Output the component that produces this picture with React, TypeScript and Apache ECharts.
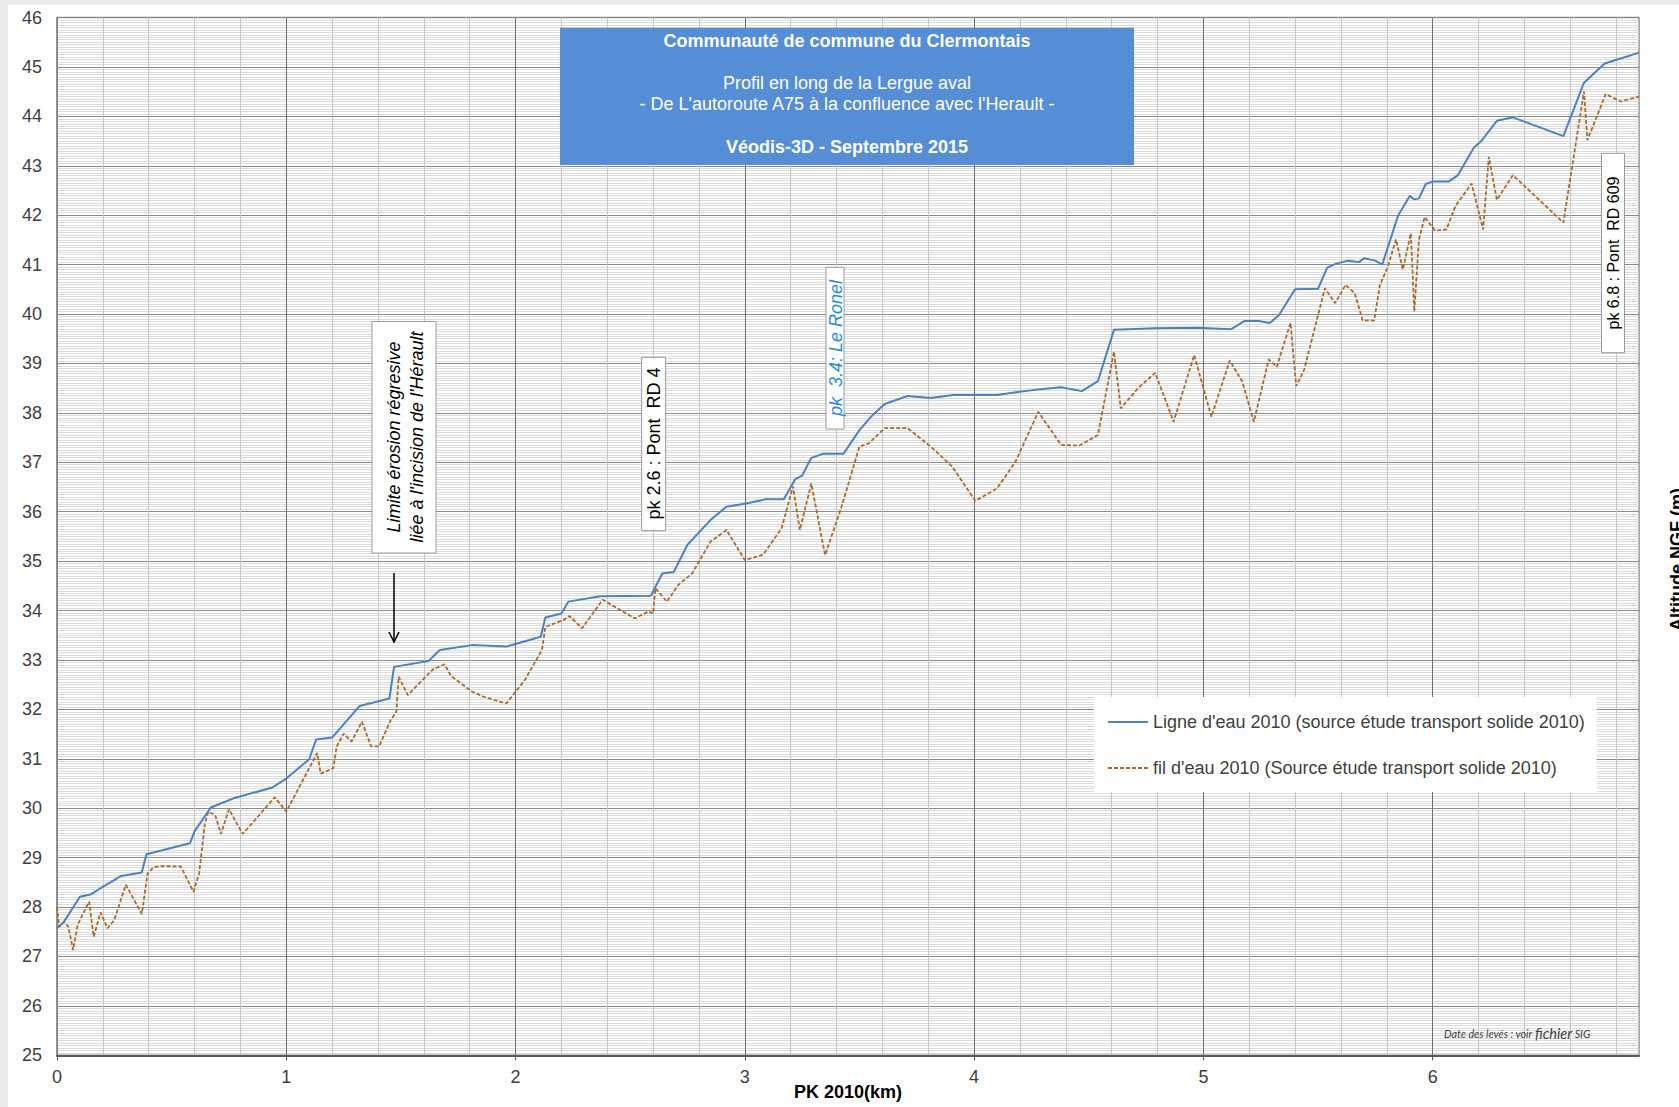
import React, { useEffect, useRef } from 'react';
import * as echarts from 'echarts';

// Ligne d'eau 2010 : PK (km) / altitude (m NGF)
const ligneKm = [
  0.0, 0.03, 0.1, 0.15, 0.2, 0.28, 0.37, 0.39, 0.58, 0.6, 0.67, 0.7, 0.77, 0.94, 1.0,
  1.1, 1.13, 1.2, 1.32, 1.45, 1.47, 1.62, 1.67, 1.81, 1.96, 2.11, 2.13, 2.2, 2.23, 2.37,
  2.59, 2.64, 2.69, 2.75, 2.85, 2.92, 3.0, 3.09, 3.17, 3.22, 3.25, 3.29, 3.34, 3.43, 3.5,
  3.55, 3.61, 3.71, 3.81, 3.91, 4.1, 4.19, 4.29, 4.38, 4.47, 4.54, 4.61, 4.79, 4.97, 5.12,
  5.18, 5.24, 5.29, 5.33, 5.4, 5.5, 5.54, 5.58, 5.63, 5.68, 5.7, 5.75, 5.78, 5.85, 5.9,
  5.92, 5.94, 5.97, 6.0, 6.07, 6.11, 6.18, 6.21, 6.28, 6.35, 6.57, 6.66, 6.75, 6.82, 6.9,
];
const ligneAlt = [
  27.57, 27.7, 28.21, 28.26, 28.41, 28.63, 28.7, 29.07, 29.29, 29.53, 30.01, 30.07, 30.2, 30.42, 30.6,
  30.99, 31.39, 31.43, 32.07, 32.22, 32.86, 32.98, 33.2, 33.3, 33.27, 33.47, 33.86, 33.94, 34.18, 34.29,
  34.3, 34.75, 34.78, 35.33, 35.83, 36.1, 36.16, 36.25, 36.25, 36.66, 36.73, 37.09, 37.17, 37.17, 37.65,
  37.92, 38.18, 38.34, 38.3, 38.36, 38.36, 38.42, 38.48, 38.52, 38.44, 38.64, 39.68, 39.71, 39.72, 39.69,
  39.86, 39.86, 39.82, 39.98, 40.5, 40.51, 40.94, 41.02, 41.08, 41.05, 41.13, 41.08, 41.0, 42.0, 42.39,
  42.32, 42.34, 42.63, 42.68, 42.68, 42.81, 43.37, 43.49, 43.91, 43.98, 43.6, 44.68, 45.07, 45.17, 45.29,
];

// fil d'eau 2010 : PK (km) / altitude (m NGF)
const filKm = [
  0.0, 0.01, 0.03, 0.05, 0.07, 0.09, 0.14, 0.16, 0.19, 0.22, 0.25, 0.3, 0.37, 0.395, 0.42,
  0.45, 0.54, 0.595, 0.62, 0.645, 0.66, 0.69, 0.715, 0.75, 0.81, 0.95, 1.0, 1.1, 1.135, 1.15,
  1.205, 1.22, 1.25, 1.285, 1.33, 1.37, 1.405, 1.455, 1.48, 1.49, 1.53, 1.64, 1.69, 1.72, 1.81,
  1.87, 1.96, 2.04, 2.115, 2.13, 2.21, 2.235, 2.29, 2.38, 2.52, 2.58, 2.6, 2.61, 2.66, 2.71,
  2.77, 2.85, 2.92, 3.0, 3.08, 3.16, 3.21, 3.24, 3.29, 3.35, 3.42, 3.5, 3.54, 3.61, 3.71,
  3.82, 3.905, 4.005, 4.1, 4.18, 4.28, 4.38, 4.46, 4.54, 4.61, 4.64, 4.715, 4.79, 4.87, 4.96,
  5.035, 5.115, 5.17, 5.22, 5.285, 5.32, 5.38, 5.405, 5.44, 5.53, 5.575, 5.62, 5.66, 5.695, 5.745,
  5.77, 5.805, 5.84, 5.87, 5.905, 5.92, 5.94, 5.965, 6.01, 6.06, 6.1, 6.17, 6.22, 6.245, 6.28,
  6.35, 6.57, 6.66, 6.675, 6.755, 6.82, 6.9,
];
const filAlt = [
  28.0, 27.6, 27.7, 27.6, 27.13, 27.64, 28.11, 27.4, 27.89, 27.57, 27.74, 28.45, 27.86, 28.68, 28.8,
  28.83, 28.82, 28.31, 28.68, 29.69, 29.93, 29.86, 29.48, 29.98, 29.48, 30.22, 29.93, 30.81, 31.12, 30.7,
  30.81, 31.25, 31.51, 31.35, 31.75, 31.25, 31.25, 31.78, 31.95, 32.66, 32.29, 32.81, 32.91, 32.67, 32.36,
  32.24, 32.12, 32.59, 33.2, 33.67, 33.81, 33.89, 33.64, 34.22, 33.84, 33.98, 33.94, 34.45, 34.18, 34.52,
  34.75, 35.39, 35.63, 35.02, 35.13, 35.66, 36.51, 35.63, 36.57, 35.12, 36.07, 37.32, 37.38, 37.69, 37.69,
  37.28, 36.91, 36.22, 36.47, 37.01, 38.02, 37.35, 37.34, 37.55, 39.24, 38.09, 38.5, 38.81, 37.82, 39.17,
  37.92, 39.06, 38.63, 37.82, 39.08, 38.93, 39.82, 38.54, 38.88, 40.52, 40.22, 40.59, 40.42, 39.87, 39.87,
  40.59, 40.96, 41.51, 40.9, 41.63, 40.05, 41.5, 41.96, 41.69, 41.71, 42.19, 42.64, 41.71, 43.18, 42.31,
  42.81, 41.85, 44.5, 43.52, 44.45, 44.3, 44.4,
];

const xLabelValues = [0, 1, 2, 3, 4, 5, 6];

const seriesNames = [
  "Ligne d'eau 2010 (source étude transport solide 2010)",
  "fil d'eau 2010 (Source étude transport solide 2010)",
];

const titleLines = [
  'Communauté de commune du Clermontais',
  'Profil en long de la Lergue aval',
  "- De L'autoroute A75 à la confluence avec l'Herault -",
  'Véodis-3D - Septembre 2015',
];

const FONT = '"Liberation Sans", Arial, sans-serif';

function rotText(x: number, y: number, text: string, extra: any = {}) {
  return {
    type: 'text',
    x,
    y,
    rotation: Math.PI / 2,
    z: 110,
    style: {
      text,
      fill: '#000',
      fontSize: 18,
      fontFamily: FONT,
      align: 'center',
      verticalAlign: 'middle',
      ...extra,
    },
  };
}

function box(x: number, y: number, w: number, h: number) {
  return {
    type: 'rect',
    z: 105,
    shape: { x, y, width: w, height: h },
    style: { fill: '#fff', stroke: '#9a9a9a', lineWidth: 1 },
  };
}

export default function App() {
  const ref = useRef<HTMLDivElement>(null);

  useEffect(() => {
    document.body.style.margin = '0';
    const chart = echarts.init(ref.current!, null, { renderer: 'svg' });

    const ligne = ligneKm.map((k, i) => [k, ligneAlt[i]]);
    const fil = filKm.map((k, i) => [k, filAlt[i]]);

    const option: any = {
      animation: false,
      backgroundColor: '#fff',
      textStyle: { fontFamily: FONT },
      grid: {
        left: 57,
        right: 40,
        top: 17.5,
        bottom: 51.7,
        containLabel: false,
        outerBoundsMode: 'none',
        show: true,
        borderColor: '#8c8c8c',
        borderWidth: 1.5,
        backgroundColor: 'transparent',
      },
      legend: {
        orient: 'vertical',
        left: 1094,
        top: 697,
        padding: [16, 12, 15, 13],
        itemGap: 28,
        itemWidth: 40,
        itemHeight: 14,
        backgroundColor: '#fff',
        itemStyle: { opacity: 0 },
        textStyle: { fontSize: 18, color: '#404040', fontFamily: FONT },
        data: seriesNames,
        z: 20,
      },
      xAxis: [
        {
          type: 'value',
          position: 'bottom',
          min: 0,
          max: 6.9,
          interval: 1,
          name: 'PK 2010(km)',
          nameLocation: 'middle',
          nameGap: 28,
          nameMoveOverlap: false,
          nameTextStyle: { fontSize: 18, fontWeight: 'bold', color: '#000', fontFamily: FONT },
          axisLine: { show: true, lineStyle: { color: '#595959', width: 2 } },
          axisTick: { show: true, length: 5, lineStyle: { color: '#595959' }, customValues: xLabelValues },
          axisLabel: {
            fontSize: 18,
            color: '#404040',
            margin: 13,
            fontFamily: FONT,
            customValues: xLabelValues,
          },
          splitLine: { show: true, lineStyle: { color: '#707070', width: 1 } },
        },
        {
          type: 'value',
          position: 'bottom',
          min: 0,
          max: 6.9,
          interval: 0.2,
          axisLine: { show: false },
          axisTick: { show: false },
          axisLabel: { show: false },
          splitLine: {
            show: true,
            lineStyle: {
              color: ['rgba(0,0,0,0)', '#c6c6c6', '#c6c6c6', '#c6c6c6', '#c6c6c6'],
              width: 1,
            },
          },
        },
      ],
      yAxis: {
        type: 'value',
        min: 25,
        max: 46,
        interval: 1,
        axisLine: { show: true, lineStyle: { color: '#8c8c8c', width: 1.5 } },
        axisTick: { show: false },
        axisLabel: { fontSize: 18, color: '#404040', margin: 15, fontFamily: FONT },
        splitLine: { show: true, lineStyle: { color: '#8a8a8a', width: 1 } },
        minorTick: { show: false, splitNumber: 20 },
        minorSplitLine: { show: true, lineStyle: { color: '#dcdcdc', width: 1 } },
      },
      series: [
        {
          name: seriesNames[0],
          type: 'line',
          xAxisIndex: 0,
          data: ligne,
          symbol: 'none',
          lineStyle: { color: '#4F81BD', width: 2 },
          itemStyle: { color: '#4F81BD' },
          z: 5,
        },
        {
          name: seriesNames[1],
          type: 'line',
          xAxisIndex: 0,
          data: fil,
          symbol: 'none',
          lineStyle: { color: '#A86A2E', width: 1.8, type: [4, 2] },
          itemStyle: { color: '#A86A2E' },
          z: 4,
        },
      ],
      graphic: [
        // window frame
        { type: 'rect', z: 120, shape: { x: 0, y: 0, width: 1679, height: 5 }, style: { fill: '#ebebeb' } },
        { type: 'rect', z: 120, shape: { x: 0, y: 0, width: 8, height: 1107 }, style: { fill: '#ebebeb' } },
        // title box
        {
          type: 'rect',
          z: 100,
          shape: { x: 560, y: 27.8, width: 574, height: 137.2 },
          style: { fill: '#558ED5' },
        },
        {
          type: 'text', z: 101, x: 847, y: 41.3,
          style: { text: titleLines[0], fill: '#fff', fontSize: 18, fontWeight: 'bold', fontFamily: FONT, align: 'center', verticalAlign: 'middle' },
        },
        {
          type: 'text', z: 101, x: 847, y: 83.3,
          style: { text: titleLines[1], fill: '#fff', fontSize: 18, fontFamily: FONT, align: 'center', verticalAlign: 'middle' },
        },
        {
          type: 'text', z: 101, x: 847, y: 104.3,
          style: { text: titleLines[2], fill: '#fff', fontSize: 18, fontFamily: FONT, align: 'center', verticalAlign: 'middle' },
        },
        {
          type: 'text', z: 101, x: 847, y: 146.7,
          style: { text: titleLines[3], fill: '#fff', fontSize: 18, fontWeight: 'bold', fontFamily: FONT, align: 'center', verticalAlign: 'middle' },
        },
        // annotation : limite érosion
        box(372, 321.5, 64, 231.5),
        rotText(405, 437, "Limite érosion régresive\nliée à l'incision de l'Hérault", {
          fontStyle: 'italic',
          lineHeight: 23,
        }),
        {
          type: 'line', z: 110,
          shape: { x1: 394, y1: 573, x2: 394, y2: 642 },
          style: { stroke: '#000', lineWidth: 1.5 },
        },
        {
          type: 'polyline', z: 110,
          shape: { points: [[389, 632], [394, 642], [399, 632]] },
          style: { stroke: '#000', lineWidth: 1.5, fill: null },
        },
        // pk 2.6
        box(641.7, 357.3, 24, 173.4),
        rotText(654, 443.5, 'pk 2.6 : Pont  RD 4'),
        // pk 3.4
        box(826, 267.3, 18, 161.7),
        rotText(835.5, 348, 'pk  3.4: Le Ronel', { fill: '#2A8AD4', fontStyle: 'italic' }),
        // pk 6.8
        box(1601.5, 153.3, 23, 199.4),
        rotText(1613.5, 253, 'pk 6.8 : Pont  RD 609', { fontSize: 16 }),
        // right axis title (cut by the page edge, as in the original)
        rotText(1677, 559.5, 'Altitude NGF (m)', { fontWeight: 'bold' }),
        // date note
        {
          type: 'text', z: 110, x: 1444, y: 1033,
          style: {
            text: '{a|Date des levés : voir }{b|fichier}{a| SIG}',
            verticalAlign: 'middle',
            align: 'left',
            rich: {
              a: { fontSize: 10.75, fontStyle: 'italic', fill: '#404040', fontFamily: 'Lato, sans-serif' },
              b: { fontSize: 14.5, fontStyle: 'italic', fill: '#404040', fontFamily: 'Lato, sans-serif' },
            },
          },
        },
      ],
    };

    chart.setOption(option);
    return () => chart.dispose();
  }, []);

  return (
    <div
      ref={ref}
      style={{ width: 1679, height: 1107, overflow: 'hidden', background: '#fff' }}
    />
  );
}
